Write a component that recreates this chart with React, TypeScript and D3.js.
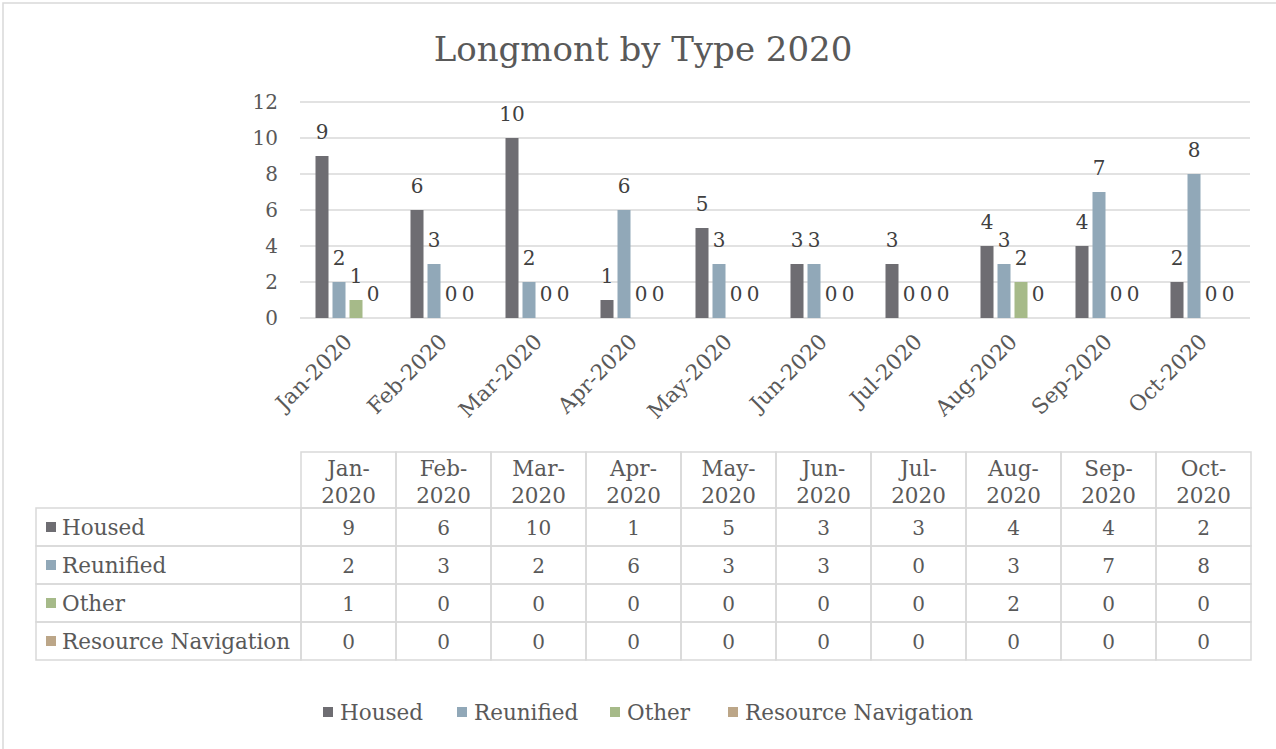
import React from "react";
import * as d3 from "d3";

const categories = ["Jan-2020", "Feb-2020", "Mar-2020", "Apr-2020", "May-2020", "Jun-2020", "Jul-2020", "Aug-2020", "Sep-2020", "Oct-2020"];
const seriesNames = ["Housed", "Reunified", "Other", "Resource Navigation"];
const housed = [9, 6, 10, 1, 5, 3, 3, 4, 4, 2];
const reunified = [2, 3, 2, 6, 3, 3, 0, 3, 7, 8];
const other = [1, 0, 0, 0, 0, 0, 0, 2, 0, 0];
const resourceNavigation = [0, 0, 0, 0, 0, 0, 0, 0, 0, 0];
const yTicks = [0, 2, 4, 6, 8, 10, 12];
const colors = ["#6e6d72", "#91a8b8", "#a6ba89", "#bca688"];
const title = "Longmont by Type 2020";

const FONT = "'DejaVu Serif', serif";
const TXT = "#595959";
const GRID = "#d9d9d9";
const FS = 21.5;
const FD = 20;

export default function App() {
  const series = [housed, reunified, other, resourceNavigation];
  const x0 = d3.scaleBand<string>().domain(categories).range([300, 1250]).paddingInner(0).paddingOuter(0);
  const groupW = 64;
  const x1 = d3.scaleBand<string>().domain(seriesNames).range([0, groupW]).paddingInner(0.235).paddingOuter(0);
  const y = d3.scaleLinear().domain([0, 12]).range([318, 102]);

  const tableTop = 452;
  const headerH = 56;
  const rowH = 38;
  const leftX = 36;
  const colX = 301;

  const legendX = [323, 457, 610, 728];

  return (
    <svg width={1276} height={749} style={{ position: "absolute", left: 0, top: 0, background: "#fff" }} fontFamily={FONT}>
      <rect x={3} y={3} width={1290} height={760} fill="#fff" stroke={GRID} strokeWidth={1.5} />
      <text x={643} y={61} textAnchor="middle" fontSize={34} fill={TXT}>{title}</text>

      {yTicks.map((t) => (
        <g key={t}>
          <line x1={300} x2={1250} y1={y(t)} y2={y(t)} stroke={GRID} strokeWidth={1.5} />
          <text x={278} y={y(t) + 7} textAnchor="end" fontSize={FD} fill={TXT}>{t}</text>
        </g>
      ))}

      {categories.map((c, ci) => {
        const cx = (x0(c) as number) + x0.bandwidth() / 2;
        const gx = cx - groupW / 2;
        return (
          <g key={c}>
            {series.map((s, si) => {
              const v = s[ci];
              const bx = gx + (x1(seriesNames[si]) as number);
              const bw = x1.bandwidth();
              return (
                <g key={si}>
                  {v > 0 && <rect x={bx} y={y(v)} width={bw} height={y(0) - y(v)} fill={colors[si]} />}
                  <text x={bx + bw / 2} y={y(v) - 17} textAnchor="middle" fontSize={FD} fill="#404040">{v}</text>
                </g>
              );
            })}
            <text
              transform={`translate(${cx + 6},${343}) rotate(-45)`}
              textAnchor="end"
              fontSize={FS}
              fill={TXT}
            >{c}</text>
          </g>
        );
      })}

      {/* data table */}
      <g fontSize={FS} fill={TXT}>
        {categories.map((c, ci) => {
          const xL = colX + ci * 95;
          const [m, yr] = c.split("-");
          return (
            <g key={c}>
              <rect x={xL} y={tableTop} width={95} height={headerH} fill="none" stroke={GRID} strokeWidth={1.5} />
              <text x={xL + 47.5} y={tableTop + 24} textAnchor="middle" fill={TXT}>{m + "-"}</text>
              <text x={xL + 47.5} y={tableTop + 51} textAnchor="middle" fill={TXT}>{yr}</text>
            </g>
          );
        })}
        {seriesNames.map((n, si) => {
          const ry = tableTop + headerH + si * rowH;
          return (
            <g key={n}>
              <rect x={leftX} y={ry} width={colX - leftX} height={rowH} fill="none" stroke={GRID} strokeWidth={1.5} />
              <rect x={46} y={ry + 14} width={10} height={10} fill={colors[si]} />
              <text x={62} y={ry + 27} fill={TXT}>{n}</text>
              {series[si].map((v, ci) => {
                const xL = colX + ci * 95;
                return (
                  <g key={ci}>
                    <rect x={xL} y={ry} width={95} height={rowH} fill="none" stroke={GRID} strokeWidth={1.5} />
                    <text x={xL + 47.5} y={ry + 27} textAnchor="middle" fontSize={FD} fill={TXT}>{v}</text>
                  </g>
                );
              })}
            </g>
          );
        })}
      </g>

      {/* legend */}
      {seriesNames.map((n, si) => (
        <g key={n}>
          <rect x={legendX[si]} y={707} width={10} height={10} fill={colors[si]} />
          <text x={legendX[si] + 17} y={720} fontSize={FS} fill={TXT}>{n}</text>
        </g>
      ))}
    </svg>
  );
}
